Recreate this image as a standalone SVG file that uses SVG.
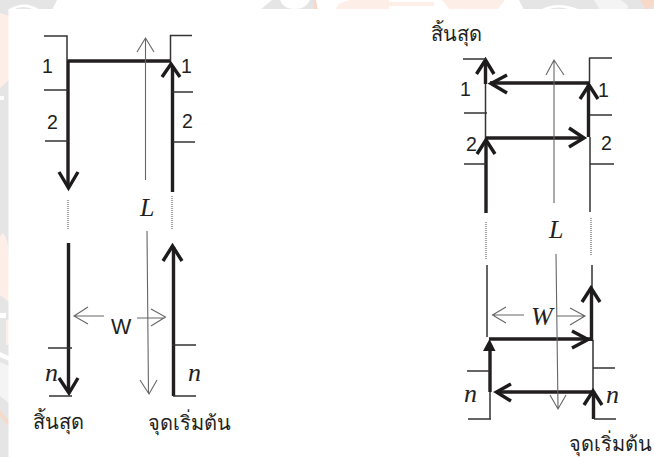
<svg xmlns="http://www.w3.org/2000/svg" width="654" height="457" viewBox="0 0 654 457">
<defs>
<style>
text{font-family:"Liberation Sans",Arial,sans-serif;fill:#231f20}
.num{font-size:19.500px}
.wd{font-size:21.500px}
.it{font-family:"Liberation Serif",serif;font-style:italic;font-size:26px}
.th{font-family:"Noto Sans","Noto Sans CJK SC",sans-serif;font-size:20px}
.thk{stroke:#231f20;stroke-width:3.400;fill:none}
.mid{stroke:#333;stroke-width:1.500;fill:none}
.thn{stroke:#666;stroke-width:1.100;fill:none}
.dot{stroke:#888;stroke-width:1.500;fill:none;stroke-dasharray:1 1}
.head{stroke:#1d1a1b;stroke-width:3.400;fill:none}
.gr{fill:#e5e5e5}.pe{fill:#fdeee8}.wh{fill:#fff}.li{fill:#f4f4f4}
</style>
</defs>
<rect width="654" height="457" fill="#fff"/>
<g id="watermark">
<path class="gr" d="M0 0H57L52 10H0ZM260 10L272 0H315V10ZM524 10L519 0H654V10Z"/>
<path class="gr" d="M0 0H9V457H0Z"/>
<path class="wh" d="M8 10Q24 -1 40 10L34 10Q24 4 12 10ZM280 0H310Q306 9 295 9Q283 9 280 0ZM540 10Q558 0 580 10L572 10Q558 5 546 10ZM0 96H4V100H0ZM0 313H6V318H0ZM0 352L9 356V361L0 357Z"/>
<path class="pe" d="M335 10Q338 2 350 0H389V10ZM389 2H434V6H389ZM442 0H505L497 10H450ZM0 13L9 16V80L0 88ZM0 236L3 233Q9 240 9 258V302L0 295ZM6 320H9V345H6Z"/>
<path fill="#f6d9c8" d="M313 0H316L318 10H314ZM640 0H654V6L646 10ZM0 410L9 421V427L0 416Z"/>
<path class="li" d="M594 0H620Q632 6 626 10H600ZM0 362L9 366V403L0 396Z"/>
<rect x="8.500" y="9" width="646" height="448" fill="#fff"/>
</g>
<g id="connectors">
<path class="thk" d="M67 61H171M68 61V186M172.500 192V66M68.500 243V391M173.500 247V396"/>
<path class="head" d="M59 172L68.500 188L78 172M162 77L171 64L180 77M163 261L172.500 246L182 261M59 378L69 393L78 378"/>
<path class="thn" d="M145.500 180V38M137 52L145.500 38L154 52M147 231L148.500 393M140 380L149 394L157 380"/>
<path class="thn" d="M104 316H74M88 307L74 316L88 324M137 318H165M151 309L165.500 317L151 326"/>
<path class="dot" d="M68 200V230M172 196V230"/>
<path class="mid" d="M485.500 59V140M589.500 58V83M590 137V212M487 265V337M490 392V419M592 265V288M593 340V390"/>
<path class="thk" d="M485.500 84V63M486 143V213M490 83H589M588.500 84V137M486 138H584M489 339H590M591.500 289V341M490 392V346M497 392H593M593.500 391V419"/>
<path class="head" d="M476.500 74L485.500 60L494 74M507 75L491 83.500L507 93M580 99L589 85L598 99M477 154L486 140L495 154M569 128L584 138L569 147M582 302L591 288L600 302M572 331L588 339.500L572 348M511 384L496.500 392L511 401M584 405L593 391L602 405"/>
<path fill="#1d1a1b" d="M483 351L489.500 339L495.500 351Z"/>
<path class="thn" d="M554 203V60M546 75L554 60L564 75M556 254L558 408M550 395L558 409L566 395"/>
<path class="thn" d="M524 315H494M506 307L492.500 315L506 323M557 316H584M570 308L585 316L570 325"/>
<path class="dot" d="M486 222V260M591 218V256"/>
</g>
<g id="left-ladder">
<path class="mid" d="M44 36H67V61M170.500 61V35.500H192M44 90H68M172 92H193M45 141H68M173 142H195M48 348H72M172 345H196M49 396H72M173 396H196"/>
<text class="num" x="42" y="73">1</text><text class="num" x="47" y="129">2</text>
<text class="num" x="181" y="73">1</text><text class="num" x="182" y="128">2</text>
<text class="it" x="140" y="216">L</text>
<text class="wd" x="111" y="334">W</text>
<text class="it" x="45" y="381">n</text><text class="it" x="188" y="381">n</text>
<text class="th" x="33" y="429">สิ้นสุด</text><text class="th" x="148" y="430">จุดเริ่มต้น</text>
</g>
<g id="right-ladder">
<path class="mid" d="M463 59H486M589 58H612M464 113H487M590 115H612M464 164H486M590 164H614M467 371H490M593 368H615M468 419H491M594 419H616"/>
<text class="num" x="460" y="96">1</text><text class="num" x="466" y="151">2</text>
<text class="num" x="598" y="97">1</text><text class="num" x="601" y="150">2</text>
<text class="it" x="549" y="238">L</text>
<text class="it" x="531" y="325">W</text>
<text class="it" x="464" y="402">n</text><text class="it" x="606" y="403">n</text>
<text class="th" x="431" y="41">สิ้นสุด</text><text class="th" x="569" y="451">จุดเริ่มต้น</text>
</g>
</svg>
